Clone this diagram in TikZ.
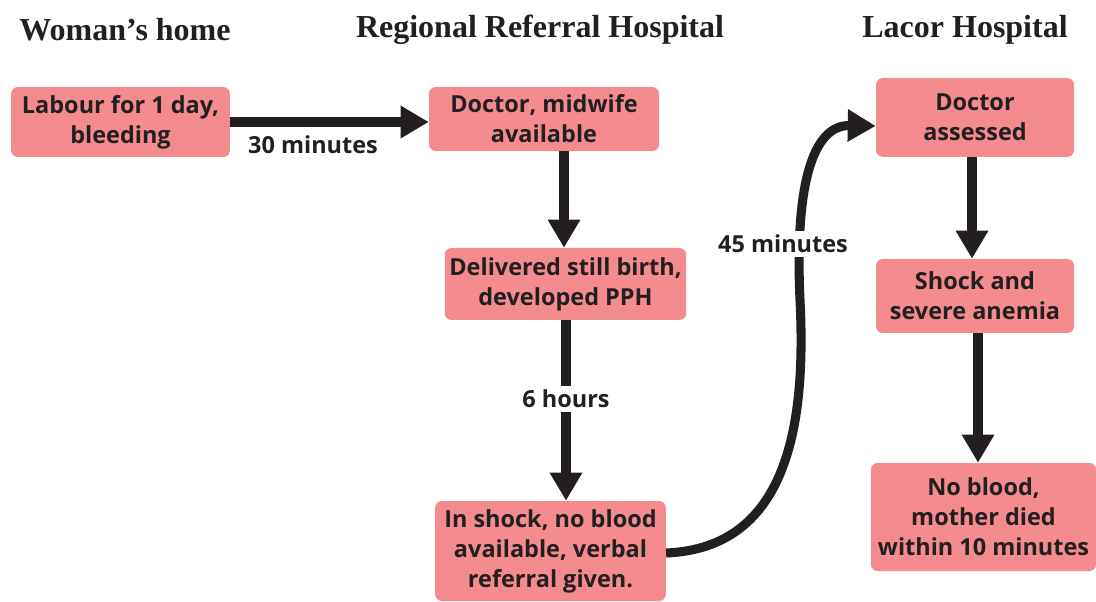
\documentclass[tikz,border=0pt]{standalone}
\usepackage{fontspec}
\setmainfont{Open Sans}
\newfontfamily\headfont{Liberation Serif}
\usetikzlibrary{arrows.meta}
\definecolor{boxpink}{HTML}{F48B8E}
\definecolor{ink}{HTML}{231F20}
\tikzset{
  box/.style={fill=boxpink, rounded corners=5pt, align=center, inner sep=0pt,
    font=\fontsize{17.6}{22.5}\selectfont\bfseries, text=ink},
  head/.style={font=\headfont\fontsize{24}{28}\selectfont\bfseries, text=ink},
  conn/.style={draw=ink, line width=6.8pt, -{Triangle[width=23pt,length=21pt]}},
  lbl/.style={font=\fontsize{17.6}{20}\selectfont\bfseries, text=ink},
  gaplbl/.style={lbl, fill=white, inner sep=3pt}
}
\begin{document}
\begin{tikzpicture}[x=0.75pt,y=-0.75pt]
\useasboundingbox (0,0) rectangle (1096,602);
% headers
\node[head] (h1) at (125,30) {Woman’s home};
\node[head] (h2) at (540,30) {Regional Referral Hospital};
\node[head] (h3) at (965,30) {Lacor Hospital};
% boxes
\node[box, minimum width=164pt, minimum height=52.5pt] (b1) at (120.5,122) {Labour for 1 day,\\bleeding};
\node[box, minimum width=172.5pt, minimum height=48pt] (b2) at (544,119) {Doctor, midwife\\available};
\node[box, minimum width=181pt, minimum height=54pt] (b3) at (565.5,284) {Delivered still birth,\\developed PPH};
\node[box, minimum width=173pt, minimum height=75pt] (b4) at (550.5,551) {In shock, no blood\\available, verbal\\referral given.};
\node[box, minimum width=148.5pt, minimum height=59pt] (b5) at (975,117.5) {Doctor\\assessed};
\node[box, minimum width=148.5pt, minimum height=55.5pt] (b6) at (975,296) {Shock and\\severe anemia};
\node[box, minimum width=169pt, minimum height=81pt] (b7) at (983.5,517) {No blood,\\mother died\\within 10 minutes};
% connectors
\draw[conn] (b1.east |- 0,122) -- (b2.west |- 0,122);
\node[lbl] (l1) at (313,145) {30 minutes};
\draw[conn] (b2.south -| 564,0) -- (b3.north -| 564,0);
\draw[conn] (b3.south -| 566,0) -- (b4.north -| 566,0);
\node[gaplbl] (l2) at (566,399) {6 hours};
\coordinate (c1) at (800,300);
\draw[conn] (b4.east |- 0,553) .. controls (790,548) and (806,420) .. (c1)
  .. controls (794,170) and (818,125) .. (b5.west |- 0,126);
\node[gaplbl] (l3) at (783,244) {45 minutes};
\draw[conn] (b5.south -| 972,0) -- (b6.north -| 972,0);
\draw[conn] (b6.south -| 978,0) -- (b7.north -| 978,0);
\end{tikzpicture}
\end{document}
